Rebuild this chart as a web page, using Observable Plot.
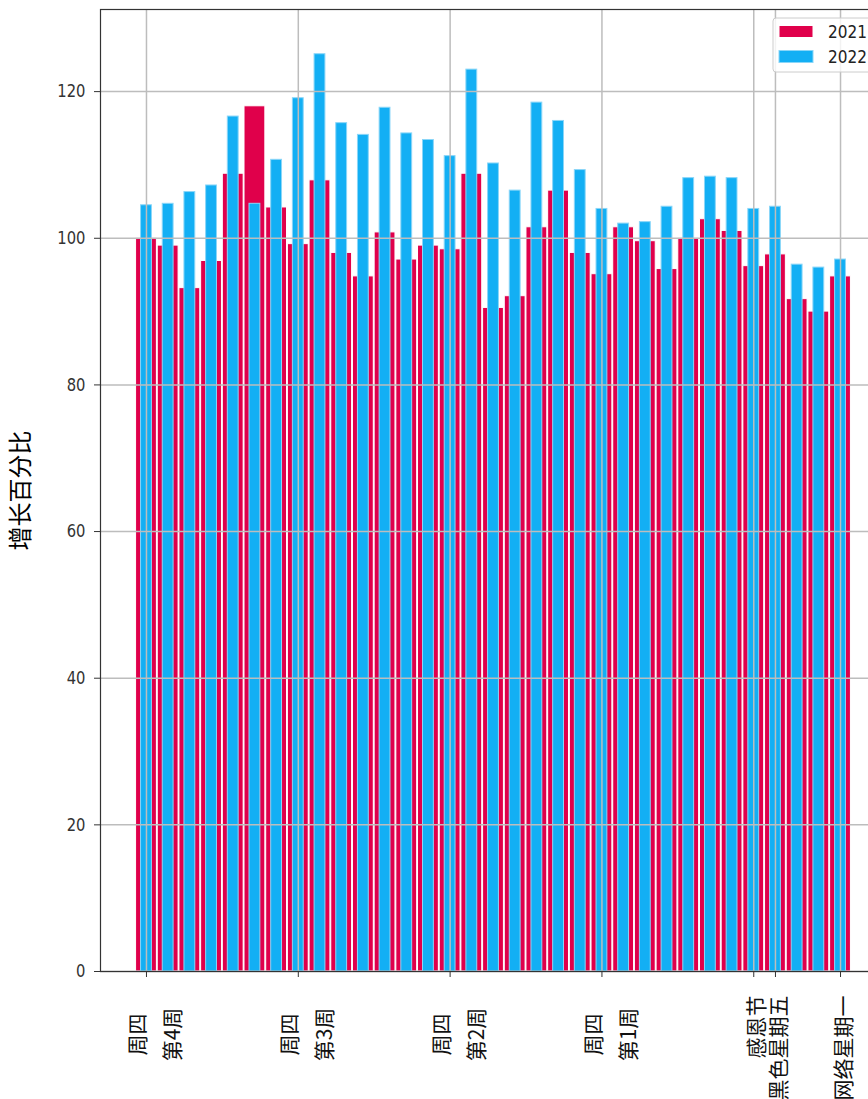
<!DOCTYPE html>
<html><head><meta charset="utf-8">
<script src="https://cdn.jsdelivr.net/npm/d3@7"></script>
<script src="https://cdn.jsdelivr.net/npm/@observablehq/plot@0.6"></script>
<style>
html,body{margin:0;padding:0;overflow:hidden;background:#fff;}
svg{max-width:none !important;display:block;}
</style></head><body><div id="chart"></div>
<script>
// ---- data ----
const values2021 = [100.0, 99.0, 93.2, 96.9, 108.8, 118.0, 104.2, 99.2, 107.9, 98.0, 94.8, 100.8, 97.1, 99.0, 98.5, 108.8, 90.5, 92.1, 101.5, 106.5, 98.0, 95.1, 101.5, 99.6, 95.8, 100.0, 102.6, 101.0, 96.2, 97.8, 91.7, 90.0, 94.8];
const values2022 = [104.5, 104.7, 106.3, 107.2, 116.6, 104.7, 110.7, 119.1, 125.1, 115.7, 114.1, 117.8, 114.3, 113.4, 111.2, 123.0, 110.2, 106.5, 118.5, 116.0, 109.3, 104.0, 102.0, 102.2, 104.3, 108.2, 108.4, 108.2, 104.0, 104.3, 96.4, 96.0, 97.1];
const tickDays = [0, 7, 14, 21, 28, 29, 32];
const tickLabels = ["周四\n第4周", "周四\n第3周", "周四\n第2周", "周四\n第1周", "感恩节", "黑色星期五", "网络星期一"];
const yTicks = [0, 20, 40, 60, 80, 100, 120];
const seriesNames = ["2021", "2022"];
const yLabel = "增长百分比";

const colors = ["#e0004b", "#13aff4"];
const rows2021 = values2021.map((v, i) => ({i, v}));
const rows2022 = values2022.map((v, i) => ({i, v}));
const labelRows = tickDays.map((d, k) => ({d, t: tickLabels[k]}));
const multi = labelRows.filter(r => r.t.includes("\n"));
const single = labelRows.filter(r => !r.t.includes("\n"));

const gridStyle = {stroke: "#bdbdbd", strokeOpacity: 1, strokeWidth: 1.5};

const chart = Plot.plot({
  width: 904, height: 1130,
  marginLeft: 100, marginRight: 18, marginTop: 9, marginBottom: 159,
  x: {type: "linear", domain: [-2.12, 34.12]},
  y: {domain: [0, 131.2]},
  style: {background: "#fff"},
  marks: [
    Plot.rectY(rows2021, {x1: d => d.i - 0.48, x2: d => d.i + 0.48, y: "v", fill: colors[0], stroke: "#fff", strokeWidth: 1}),
    Plot.rectY(rows2022, {x1: d => d.i - 0.25, x2: d => d.i + 0.25, y: "v", fill: colors[1], stroke: "#8ad6f8", strokeWidth: 1}),
    Plot.gridX({ticks: tickDays, ...gridStyle}),
    Plot.gridY({ticks: yTicks, ...gridStyle}),
    Plot.frame({stroke: "#333", strokeWidth: 1.2}),
    Plot.axisY({ticks: yTicks, tickSize: 6, tickPadding: 9, fontSize: 18, fontFamily: "DejaVu Sans", label: null, stroke: "#333", fill: "#333"}),
    Plot.axisX({ticks: tickDays, tickSize: 6, tickFormat: () => "", label: null, stroke: "#333"}),
    Plot.text(multi, {x: "d", text: "t", frameAnchor: "bottom", rotate: -90, textAnchor: "middle", lineAnchor: "middle",
      lineHeight: 1.68, dy: 63, dx: 5, fontSize: 21, fontFamily: "Noto Sans CJK SC", fill: "#111", ariaLabel: "xlabel"}),
    Plot.text(single, {x: "d", text: "t", frameAnchor: "bottom", rotate: -90, textAnchor: "end", lineAnchor: "middle",
      dy: 24, dx: 4, fontSize: 21, fontFamily: "Noto Sans CJK SC", fill: "#111", ariaLabel: "xlabel"}),
    Plot.text([yLabel], {text: d => d, frameAnchor: "left", dx: -79, rotate: -90, textAnchor: "middle", lineAnchor: "middle",
      fontSize: 24, fontFamily: "Noto Sans CJK SC", fill: "#000", ariaLabel: "ylabel"})
  ]
});
document.getElementById("chart").appendChild(chart);

const svg = d3.select(chart);
// squash text horizontally to match the reference's aspect
svg.selectAll('g[aria-label="xlabel"] text').attr("transform", function() { return this.getAttribute("transform") + " scale(1,0.85)"; });
svg.selectAll("text").filter(function() {
  const p = this.parentNode; return p && (p.getAttribute("aria-label") || "").startsWith("y-axis tick label");
}).attr("transform", function() { return (this.getAttribute("transform") || "") + " scale(0.82,1)"; });

// legend (upper right, partially cropped like the reference)
const lg = svg.append("g").attr("text-anchor", "start");
lg.append("rect").attr("x", 773).attr("y", 18).attr("width", 140).attr("height", 54).attr("rx", 3)
  .attr("fill", "#fff").attr("fill-opacity", 0.8).attr("stroke", "#cccccc");
seriesNames.forEach((name, k) => {
  const cy = 31.5 + k * 25;
  lg.append("rect").attr("x", 779).attr("y", cy - 6).attr("width", 34).attr("height", 12)
    .attr("fill", colors[k]).attr("stroke", k ? "#8ad6f8" : "#fff");
  lg.append("text").attr("transform", `translate(828,${cy}) scale(0.85,1)`).attr("dy", "0.36em")
    .attr("text-anchor", "start").attr("font-size", 18).attr("font-family", "DejaVu Sans").attr("fill", "#222").text(name);
});
</script></body></html>
